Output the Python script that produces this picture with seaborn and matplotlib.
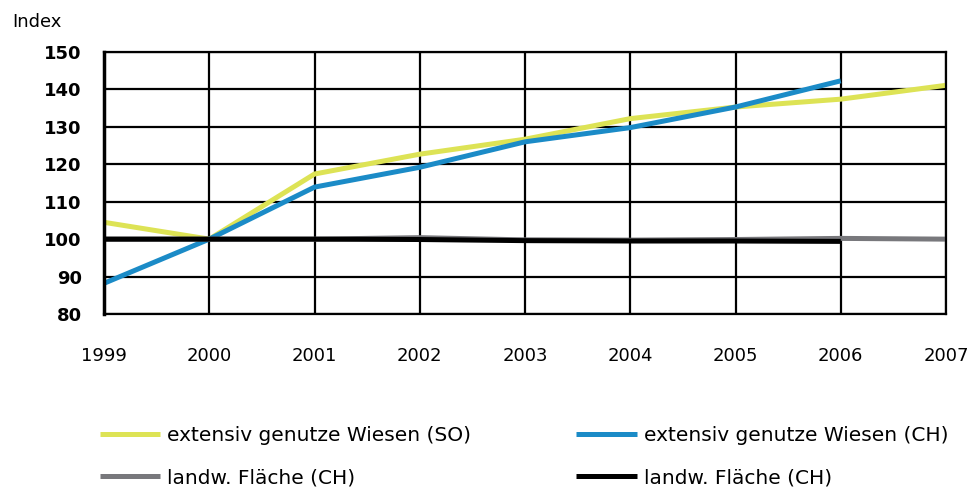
import pandas as pd
import matplotlib
matplotlib.use("Agg")
import matplotlib.pyplot as plt
import seaborn as sns

# values (index, 2000 = 100)
years = [1999, 2000, 2001, 2002, 2003, 2004, 2005, 2006, 2007]
wiesen_so = [104.5, 100, 117.4, 122.7, 126.7, 132.2, 135.3, 137.4, 141.1]
wiesen_ch = [88.2, 100, 113.9, 119.2, 126.0, 129.8, 135.3, 142.3, None]
flaeche_ch_grey = [100, 100, 100, 100.4, 99.8, 99.7, 99.9, 100.2, 100.0]
flaeche_ch_black = [100, 100, 100, 99.9, 99.6, 99.5, 99.5, 99.4, None]

labels = ["extensiv genutze Wiesen (SO)", "extensiv genutze Wiesen (CH)",
          "landw. Fläche (CH)", "landw. Fläche (CH)"]
colors = ["#dde355", "#1b8bc7", "#78787c", "#000000"]

sns.set_style("white")
plt.rcParams['font.family'] = ['DejaVu Sans']
plt.rcParams['text.color'] = 'black'
plt.rcParams['xtick.color'] = 'black'
plt.rcParams['ytick.color'] = 'black'

fig = plt.figure(figsize=(9.7, 4.93), dpi=100)
ax = fig.add_axes([104 / 970, 1 - 314 / 493, (946 - 104) / 970, (314 - 52) / 493])

series = [wiesen_so, wiesen_ch, flaeche_ch_grey, flaeche_ch_black]
handles = []
for vals, lab, col in zip(series, labels, colors):
    df = pd.DataFrame({"year": years, "value": vals}).dropna()
    sns.lineplot(data=df, x="year", y="value", color=col, linewidth=3.6,
                 ax=ax, label=lab, legend=False, solid_capstyle="butt")
    handles.append(ax.lines[-1])

ax.set_xlim(1999, 2007)
ax.set_ylim(80, 150)
ax.set_xticks(years)
ax.set_yticks(range(80, 151, 10))
ax.grid(True, color="black", linewidth=1.6)
ax.set_axisbelow(True)
for s in ax.spines.values():
    s.set_color("black")
    s.set_linewidth(1.6)
ax.spines["left"].set_linewidth(2.5)
ax.tick_params(axis="y", length=8, width=1.6, direction="out", pad=8, labelsize=13)
ax.tick_params(axis="x", length=0, pad=24, labelsize=13)
for t in ax.get_yticklabels():
    t.set_fontweight("bold")
ax.set_xlabel("")
ax.set_ylabel("")
fig.text(12 / 970, 1 - 22 / 493, "Index", fontsize=13, va="center", ha="left")

order = [0, 2, 1, 3]
fig.legend([handles[i] for i in order], [labels[i] for i in order], ncol=2,
           loc="upper left", bbox_to_anchor=(100 / 970, 1 - 426 / 493),
           frameon=False, fontsize=14.5, handlelength=3.0, handletextpad=0.35,
           columnspacing=5.2, labelspacing=1.15, borderaxespad=0, borderpad=0)

fig.savefig("out.png", dpi=100)
